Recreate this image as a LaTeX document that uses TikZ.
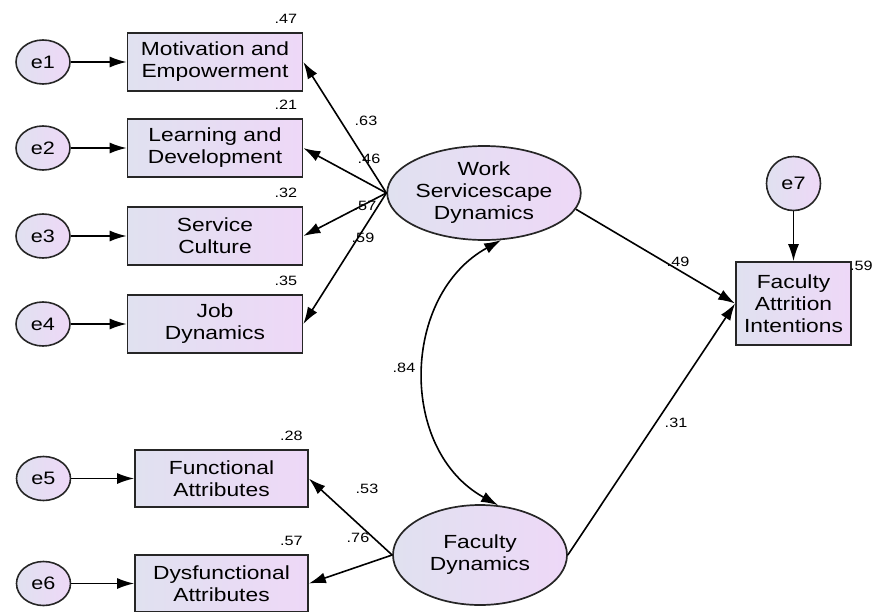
\documentclass[tikz,border=0pt]{standalone}
\usepackage{fontspec}
\setmainfont{Liberation Sans}[FakeStretch=1.2]
\usetikzlibrary{arrows.meta, positioning, shapes.geometric}

\definecolor{shadeleft}{RGB}{224,225,240}
\definecolor{shaderight}{RGB}{238,216,247}

\begin{document}
\begin{tikzpicture}[x=1pt,y=-1pt,on grid,>={Latex[length=17pt,width=11pt]},
      obs/.style={rectangle,draw=black!85,line width=1.7pt,left color=shadeleft,right color=shaderight,
        minimum width=175pt,minimum height=58pt,align=center,font=\fontsize{19}{22}\selectfont},
      latent/.style={ellipse,draw=black!85,line width=1.7pt,left color=shadeleft,right color=shaderight,
        inner sep=0pt,align=center,font=\fontsize{19}{22}\selectfont},
      err/.style={ellipse,draw=black!85,line width=1.6pt,left color=shadeleft,right color=shaderight,
        minimum width=54pt,minimum height=44pt,inner sep=0pt,font=\fontsize{18}{20}\selectfont},
      r2/.style={anchor=south east,inner sep=1pt,xshift=-5pt,yshift=7pt,font=\fontsize{13.5}{15}\selectfont},
      coef/.style={inner sep=1pt,font=\fontsize{13.5}{15}\selectfont},
      path/.style={->,line width=1.6pt}]
      \useasboundingbox (0,0) rectangle (881,611);

      % observed indicators
      \node[obs,label={[r2]north east:.47}]         (mem) at (215,62)          {Motivation and\\Empowerment};
      \node[obs,label={[r2]north east:.21}]         (ld)  [below=86pt of mem]  {Learning and\\Development};
      \node[obs,label={[r2]north east:.32}]         (sc)  [below=88pt of ld]   {Service\\Culture};
      \node[obs,label={[r2]north east:.35}]         (jd)  [below=88pt of sc]   {Job\\Dynamics};
      \node[obs,minimum width=173pt,minimum height=57pt,label={[r2]north east:.28}] (fa) at (221.5,478.5) {Functional\\Attributes};
      \node[obs,minimum width=173pt,minimum height=57pt,label={[r2]north east:.57}] (da) [below=105pt of fa] {Dysfunctional\\Attributes};
      \node[obs,minimum width=115pt,minimum height=83pt,
            label={[r2,anchor=north west,xshift=2pt,yshift=-6pt]north east:.59}] (fai) at (793.5,303.5) {Faculty\\Attrition\\Intentions};

      % latent variables
      \node[latent,minimum width=182pt,minimum height=94pt]  (wsd) at (484,193) {Work\\Servicescape\\Dynamics};
      \node[latent,minimum width=174pt,minimum height=100pt] (fd)  at (480,555) {Faculty\\Dynamics};

      % error terms
      \node[err] (e1) [left=172pt of mem] {e1};
      \node[err] (e2) [left=172pt of ld]  {e2};
      \node[err] (e3) [left=172pt of sc]  {e3};
      \node[err] (e4) [left=172pt of jd]  {e4};
      \node[err] (e5) [left=178pt of fa]  {e5};
      \node[err] (e6) [left=178pt of da]  {e6};
      \node[err,minimum width=54pt,minimum height=54pt] (e7) [above=120pt of fai] {e7};

      \foreach \e/\o in {e1/mem,e2/ld,e3/sc,e4/jd,e5/fa,e6/da,e7/fai}
        \draw[path] (\e) -- (\o);

      % loadings and paths
      \draw[path] (wsd.west) -- (mem.east);
      \draw[path] (wsd.west) -- (ld.east);
      \draw[path] (wsd.west) -- (sc.east);
      \draw[path] (wsd.west) -- (jd.east);
      \draw[path] (fd.west) -- (fa.east);
      \draw[path] (fd.west) -- (da.east);
      \draw[path] (wsd.-10) -- (fai.west);
      \draw[path] (fd.east) -- (fai.west);
      \draw[<->,line width=1.6pt] (wsd.-70) .. controls +(-100,55) and +(-100,-55) .. (fd.70);

      \node[coef] (w-mem) at (366,121) {.63};
      \node[coef] (w-ld)  at (369,159) {.46};
      \node[coef] (w-sc)  at (365,206) {.57};
      \node[coef] (w-jd)  at (363,238) {.59};
      \node[coef] (w-fa)  at (367,489) {.53};
      \node[coef] (w-da)  at (358,538) {.76};
      \node[coef] (w-wsd) at (678,262) {.49};
      \node[coef] (w-fd)  at (676,423) {.31};
      \node[coef] (w-cov) at (404,368) {.84};
\end{tikzpicture}
\end{document}
